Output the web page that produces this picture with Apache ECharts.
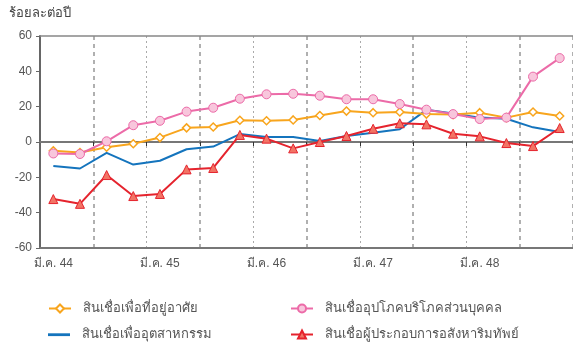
<!DOCTYPE html>
<html>
<head>
<meta charset="utf-8">
<script src="https://cdn.jsdelivr.net/npm/echarts@6/dist/echarts.min.js"></script>
<style>
  html, body { margin: 0; padding: 0; background: #fff; }
  #chart { width: 573px; height: 344px; }
</style>
</head>
<body>
<div id="chart"></div>
<script>
// Quarter-end months, 2544-2548 (B.E.)
const years = ['44', '45', '46', '47', '48'];
const months = ['มี.ค.', 'มิ.ย.', 'ก.ย.', 'ธ.ค.'];
const categories = [];
years.forEach(y => months.forEach(m => categories.push(m + ' ' + y)));

// Loan growth, percent per year
const housing = [-5, -6, -3, -1, 2.5, 8, 8.5, 12.3, 12, 12.5, 15, 17.5, 16.6, 17, 15.8, 15.5, 16.6, 13.8, 17, 14.7];
const consumer = [-6.5, -6.8, 0.4, 9.5, 12, 17.2, 19.4, 24.5, 27, 27.3, 26.2, 24.2, 24.2, 21.5, 18.3, 15.8, 13, 13.8, 37, 47.5];
const industry = [-13.6, -15, -6.2, -12.8, -10.6, -4.1, -2.6, 4.5, 2.8, 2.8, 0.6, 3.4, 5.3, 7.2, 18.2, 16.2, 13.8, 13.2, 8.3, 5.7];
const realEstate = [-32.3, -35, -18.7, -30.6, -29.4, -15.5, -14.7, 4, 1.9, -3.6, 0, 3.4, 7.5, 10.6, 10, 4.7, 3.2, -0.6, -2.3, 7.9];

const seriesNames = [
  'สินเชื่อเพื่อที่อยู่อาศัย',
  'สินเชื่ออุปโภคบริโภคส่วนบุคคล',
  'สินเชื่อเพื่ออุตสาหกรรม',
  'สินเชื่อผู้ประกอบการอสังหาริมทัพย์'
];
const yTicks = { min: -60, max: 60, step: 20 };
const unitLabel = 'ร้อยละต่อปี';

const FONT = 'sans-serif';
const chart = echarts.init(document.getElementById('chart'), null, { renderer: 'canvas' });

// Plain line key (no marker) centred in a 22x10 box
const LINE_ICON = 'path://M0,0L0,0M0,3.8L22,3.8L22,6.6L0,6.6ZM22,10L22,10';

const legendText = { fontSize: 13, color: '#555', fontFamily: FONT, padding: [0, 0, 0, 7] };
function legendAt(item, left, top) {
  return {
    data: [item], left: left, top: top, orient: 'horizontal',
    itemWidth: 22, itemHeight: 10, selectedMode: false,
    textStyle: legendText
  };
}

const baseX = {
  type: 'category',
  data: categories,
  boundaryGap: true,
  gridIndex: 0
};

chart.setOption({
  animation: false,
  backgroundColor: '#fff',
  textStyle: { fontFamily: FONT },
  grid: { left: 40, right: 0, top: 36, bottom: 96, containLabel: false },
  graphic: [{
    type: 'text', left: 9, top: 7,
    style: { text: unitLabel, fontSize: 13, fill: '#444', fontFamily: FONT }
  }],
  legend: [
    legendAt(seriesNames[0], 43, 297),
    legendAt(seriesNames[1], 285, 297),
    legendAt({ name: seriesNames[2], icon: LINE_ICON }, 43, 323),
    legendAt(seriesNames[3], 285, 323)
  ],
  xAxis: [
    Object.assign({}, baseX, {
      position: 'bottom',
      axisLine: { show: true, onZero: false, lineStyle: { color: '#777', width: 2 } },
      axisTick: { show: false },
      axisLabel: { interval: 3, color: '#555', fontSize: 12, margin: 10, fontFamily: FONT },
      splitLine: {
        show: true,
        interval: (i) => i > 0 && i % 4 === 0,
        lineStyle: { color: '#aaa', width: 1, type: [2, 3] }
      }
    }),
    Object.assign({}, baseX, {
      position: 'top',
      axisLine: { show: true, onZero: false, lineStyle: { color: '#888', width: 1.5 } },
      axisTick: { show: false },
      axisLabel: { show: false },
      splitLine: {
        show: true,
        interval: (i) => i % 4 === 2,
        lineStyle: { color: '#b0b0b0', width: 2, type: [4, 4] }
      }
    }),
    Object.assign({}, baseX, {
      position: 'bottom',
      axisLine: { show: true, onZero: true, lineStyle: { color: '#777', width: 2 } },
      axisTick: {
        show: true, inside: false, length: 4,
        interval: (i) => i > 0 && i % 2 === 0,
        lineStyle: { color: '#333', width: 1 }
      },
      axisLabel: { show: false },
      splitLine: { show: false }
    })
  ],
  yAxis: {
    type: 'value',
    min: yTicks.min, max: yTicks.max, interval: yTicks.step,
    axisLine: { show: true, onZero: false, lineStyle: { color: '#666', width: 2 } },
    axisTick: { show: true, length: 4, lineStyle: { color: '#666' } },
    axisLabel: { color: '#555', fontSize: 12, margin: 8, fontFamily: FONT },
    splitLine: { show: false }
  },
  series: [
    {
      name: seriesNames[2], type: 'line', data: industry, xAxisIndex: 0,
      showSymbol: false, symbol: 'none',
      lineStyle: { color: '#1474bd', width: 2 },
      itemStyle: { color: '#1474bd' }, z: 2
    },
    {
      name: seriesNames[0], type: 'line', data: housing, xAxisIndex: 0,
      symbol: 'diamond', symbolSize: 8,
      lineStyle: { color: '#f8a51d', width: 2 },
      itemStyle: { color: '#fff', borderColor: '#f8a51d', borderWidth: 1.5 }, z: 3
    },
    {
      name: seriesNames[3], type: 'line', data: realEstate, xAxisIndex: 0,
      symbol: 'triangle', symbolSize: 9,
      lineStyle: { color: '#e5232d', width: 2 },
      itemStyle: { color: '#f27465', borderColor: '#e5232d', borderWidth: 1 }, z: 4
    },
    {
      name: seriesNames[1], type: 'line', data: consumer, xAxisIndex: 0,
      symbol: 'circle', symbolSize: 9,
      lineStyle: { color: '#ec6ba8', width: 2 },
      itemStyle: { color: '#f8c6dc', borderColor: '#ec6ba8', borderWidth: 1 }, z: 5
    }
  ]
});
</script>
</body>
</html>
